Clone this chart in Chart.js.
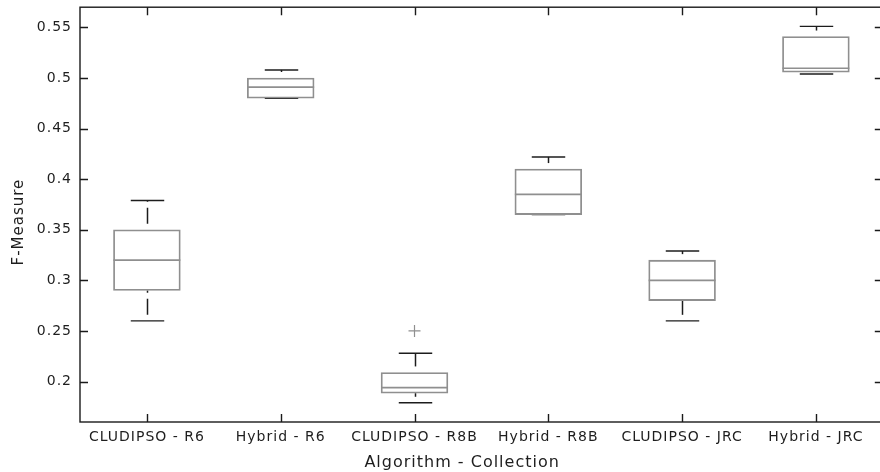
<!DOCTYPE html>
<html>
<head>
<meta charset="utf-8">
<script src="https://cdn.jsdelivr.net/npm/chart.js@4/dist/chart.umd.min.js"></script>
<style>
  html, body { margin: 0; padding: 0; background: #fff; overflow: hidden; }
  #wrap { width: 890px; height: 472px; position: relative; }
</style>
</head>
<body>
<div id="wrap"><canvas id="c"></canvas></div>
<script>
// ---- data ----
const categories = ['CLUDIPSO - R6', 'Hybrid - R6', 'CLUDIPSO - R8B', 'Hybrid - R8B', 'CLUDIPSO - JRC', 'Hybrid - JRC'];
const mins    = [0.260, 0.480, 0.179, 0.365, 0.260, 0.504];
const q1s     = [0.290, 0.480, 0.1885, 0.365, 0.280, 0.5057];
const medians = [0.320, 0.491, 0.194, 0.385, 0.300, 0.5096];
const q3s     = [0.350, 0.500, 0.209, 0.410, 0.320, 0.541];
const maxs    = [0.379, 0.508, 0.228, 0.422, 0.329, 0.551];
const outliers = [null, null, 0.250, null, null, null];
const yTicks = [0.2, 0.25, 0.3, 0.35, 0.4, 0.45, 0.5, 0.55];
const yMin = 0.16, yMax = 0.57;
const xTitle = 'Algorithm - Collection';
const yTitle = 'F-Measure';

const BOX_COLOR = '#8f8f8f';
const WHISKER_COLOR = '#1c1c1c';
const TEXT_COLOR = '#1e1e1e';
const FONT = 'DejaVu Sans';

const spacingPlugin = {
  id: 'spacing',
  beforeDraw(chart) { chart.ctx.letterSpacing = '1px'; }
};

const whiskerPlugin = {
  id: 'whiskers',
  beforeDatasetsDraw(chart) {
    const ctx = chart.ctx, xs = chart.scales.x, ys = chart.scales.y;
    const step = xs.getPixelForValue(1) - xs.getPixelForValue(0);
    const capHalf = step * 0.125;
    ctx.save();
    ctx.strokeStyle = WHISKER_COLOR;
    ctx.lineWidth = 1.5;
    categories.forEach((c, i) => {
      const x = Math.round(xs.getPixelForValue(i)) + 0.5;
      const segs = [[q3s[i], maxs[i]], [mins[i], q1s[i]]];
      // dashed whisker lines, drawn bottom to top
      ctx.setLineDash([16, 6]);
      ctx.lineDashOffset = 16;
      segs.forEach(([lo, hi]) => {
        const yLo = ys.getPixelForValue(lo), yHi = ys.getPixelForValue(hi);
        if (yLo - yHi < 0.5) return;
        ctx.beginPath(); ctx.moveTo(x, yLo); ctx.lineTo(x, yHi); ctx.stroke();
      });
      ctx.setLineDash([]);
      ctx.lineDashOffset = 0;
      ctx.lineWidth = 1.4;
      [mins[i], maxs[i]].forEach(v => {
        const y = ys.getPixelForValue(v);
        ctx.beginPath(); ctx.moveTo(x - capHalf, y); ctx.lineTo(x + capHalf, y); ctx.stroke();
      });
      ctx.lineWidth = 1.5;
    });
    ctx.restore();
  },
  afterDatasetsDraw(chart) {
    const ctx = chart.ctx, xs = chart.scales.x, ys = chart.scales.y;
    const step = xs.getPixelForValue(1) - xs.getPixelForValue(0);
    const half = step * 0.25;
    ctx.save();
    ctx.strokeStyle = BOX_COLOR;
    ctx.lineWidth = 1.6;
    categories.forEach((c, i) => {
      const x = xs.getPixelForValue(i);
      const y = ys.getPixelForValue(medians[i]);
      ctx.beginPath(); ctx.moveTo(x - half, y); ctx.lineTo(x + half, y); ctx.stroke();
    });
    ctx.restore();
  }
};

const framePlugin = {
  id: 'frame',
  afterDraw(chart) {
    const ctx = chart.ctx, a = chart.chartArea, xs = chart.scales.x, ys = chart.scales.y;
    ctx.save();
    ctx.strokeStyle = '#1a1a1a';
    ctx.lineWidth = 1.4;
    ctx.strokeRect(a.left, a.top, a.right - a.left, a.bottom - a.top);
    const tl = 8;
    ctx.beginPath();
    yTicks.forEach(v => {
      const y = Math.round(ys.getPixelForValue(v)) + 0.5;
      ctx.moveTo(a.left, y); ctx.lineTo(a.left + tl, y);
      ctx.moveTo(a.right, y); ctx.lineTo(a.right - tl, y);
    });
    categories.forEach((c, i) => {
      const x = Math.round(xs.getPixelForValue(i)) + 0.5;
      ctx.moveTo(x, a.bottom); ctx.lineTo(x, a.bottom - tl);
      ctx.moveTo(x, a.top); ctx.lineTo(x, a.top + tl);
    });
    ctx.stroke();

    // axis titles
    ctx.fillStyle = TEXT_COLOR;
    ctx.letterSpacing = '1px';
    ctx.font = '16px "' + FONT + '"';
    ctx.textAlign = 'center';
    ctx.textBaseline = 'alphabetic';
    ctx.fillText(xTitle, a.left + (a.right - a.left) * 0.476, 467);
    ctx.font = '15px "' + FONT + '"';
    ctx.translate(23, a.top + (a.bottom - a.top) * 0.518);
    ctx.rotate(-Math.PI / 2);
    ctx.fillText(yTitle, 0, 0);
    ctx.restore();
  }
};

new Chart(document.getElementById('c'), {
  type: 'bar',
  data: {
    labels: categories,
    datasets: [
      {
        type: 'bar',
        data: categories.map((c, i) => [q1s[i], q3s[i]]),
        backgroundColor: 'rgba(0,0,0,0)',
        borderColor: BOX_COLOR,
        borderWidth: 1.2,
        borderSkipped: false,
        inflateAmount: 0.3,
        barPercentage: 0.5,
        categoryPercentage: 1
      },
      {
        type: 'line',
        data: outliers,
        showLine: false,
        pointStyle: 'cross',
        pointRadius: 6,
        pointBorderWidth: 1.2,
        borderColor: BOX_COLOR,
        backgroundColor: BOX_COLOR
      }
    ]
  },
  options: {
    responsive: true,
    maintainAspectRatio: false,
    animation: false,
    events: [],
    layout: { padding: { top: 5, right: 2, left: 0, bottom: 0 } },
    plugins: { legend: { display: false }, tooltip: { enabled: false } },
    scales: {
      x: {
        type: 'category',
        offset: true,
        grid: { display: false, drawTicks: false },
        border: { display: false },
        ticks: {
          color: TEXT_COLOR,
          font: { family: FONT, size: 14 },
          padding: 7,
          maxRotation: 0,
          autoSkip: false
        },
        afterFit(s) { s.height = 50; s.paddingLeft = 0; s.paddingRight = 0; }
      },
      y: {
        min: yMin,
        max: yMax,
        grid: { display: false, drawTicks: false },
        border: { display: false },
        afterBuildTicks(s) { s.ticks = yTicks.map(v => ({ value: v })); },
        ticks: {
          color: TEXT_COLOR,
          font: { family: FONT, size: 14 },
          padding: 8,
          callback: v => String(+Number(v).toFixed(2))
        },
        afterFit(s) { s.width = 80; s.paddingTop = 0; s.paddingBottom = 0; }
      }
    }
  },
  plugins: [spacingPlugin, whiskerPlugin, framePlugin]
});
</script>
</body>
</html>
